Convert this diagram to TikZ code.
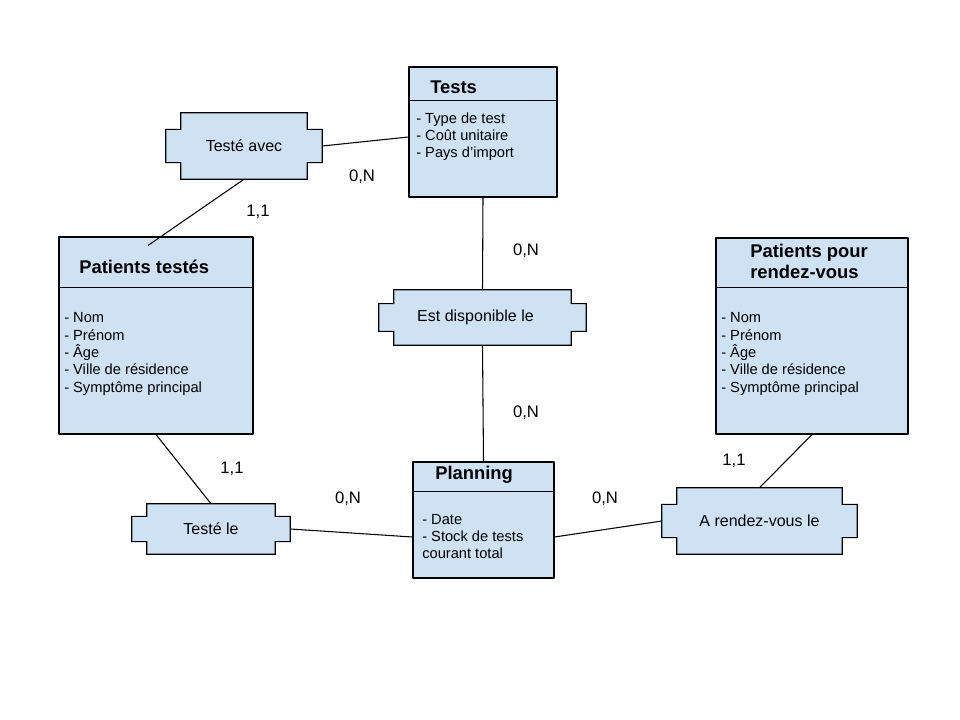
\documentclass[tikz,border=0pt]{standalone}
\usepackage{fontspec}
\setmainfont{Liberation Sans}
\usetikzlibrary{calc,backgrounds}
\definecolor{boxblue}{RGB}{207,226,243}
\def\px{0.75pt}
\tikzset{
  entity/.style={draw, fill=boxblue, line width=0.8pt, inner sep=0pt},
  relation/.style={inner sep=0pt, font=\fontsize{12}{14}\selectfont},
  title/.style={anchor=base west, inner sep=0pt, align=left, font=\fontsize{13.8}{16.5}\selectfont\bfseries},
  attr/.style={anchor=base west, inner sep=0pt, align=left, font=\fontsize{11}{13}\selectfont},
  card/.style={font=\fontsize{12.5}{14}\selectfont},
  link/.style={line width=0.8pt},
}
\begin{document}
\begin{tikzpicture}[x=0.75pt, y=-0.75pt, line join=round]
	\useasboundingbox (0,0) rectangle (960,720);
	% entites
	\node[entity, minimum width=148*\px, minimum height=130*\px] (tests) at (483,132) {};
	\node[entity, minimum width=194*\px, minimum height=197*\px] (ptestes) at (156,335.5) {};
	\node[entity, minimum width=192*\px, minimum height=196*\px] (prdv) at (812,336) {};
	\node[entity, minimum width=141*\px, minimum height=116*\px] (planning) at (483.5,520) {};
	\draw[link] ($(tests.north west)+(0,34)$) -- ($(tests.north east)+(0,34)$);
	\draw[link] ($(ptestes.north west)+(0,51)$) -- ($(ptestes.north east)+(0,51)$);
	\draw[link] ($(prdv.north west)+(0,50)$) -- ($(prdv.north east)+(0,50)$);
	\draw[link] ($(planning.north west)+(0,30)$) -- ($(planning.north east)+(0,30)$);
	% base = derniere ligne
	\node[title] (tests-t) at (430,94) {Tests};
	\node[title] (ptestes-t) at (79,274) {Patients testés};
	\node[title] (prdv-t) at (750,279) {Patients pour\\rendez-vous};
	\node[title] (planning-t) at (435,479) {Planning};
	\node[attr] (tests-a) at (416,157.7) {- Type de test\\- Coût unitaire\\- Pays d’import};
	\node[attr] (ptestes-a) at (64,392.3) {- Nom\\- Prénom\\- Âge\\- Ville de résidence\\- Symptôme principal};
	\node[attr] (prdv-a) at (721,392.3) {- Nom\\- Prénom\\- Âge\\- Ville de résidence\\- Symptôme principal};
	\node[attr] (planning-a) at (422,558.7) {- Date\\- Stock de tests\\courant total};
	% associations
	\node[relation, minimum width=156*\px, minimum height=66*\px] (testeavec) at (244,146) {Testé avec};
	\node[relation, minimum width=207*\px, minimum height=55*\px] (estdispo) at (482.5,317.5) {Est disponible le\kern10.5pt};
	\node[relation, minimum width=158*\px, minimum height=50*\px] (testele) at (211,529) {Testé le};
	\node[relation, minimum width=195*\px, minimum height=66*\px] (ardv) at (759.5,521) {A rendez-vous le};
	\begin{scope}[on background layer]
		\foreach \r in {testeavec,estdispo,testele,ardv}
			\draw[entity] ($(\r.north west)+(15,0)$) -- ($(\r.north east)+(-15,0)$)
				-- ($(\r.north east)!.25!(\r.south east)+(-15,0)$) -- ($(\r.north east)!.25!(\r.south east)$)
				-- ($(\r.north east)!.75!(\r.south east)$) -- ($(\r.north east)!.75!(\r.south east)+(-15,0)$)
				-- ($(\r.south east)+(-15,0)$) -- ($(\r.south west)+(15,0)$)
				-- ($(\r.north west)!.75!(\r.south west)+(15,0)$) -- ($(\r.north west)!.75!(\r.south west)$)
				-- ($(\r.north west)!.25!(\r.south west)$) -- ($(\r.north west)!.25!(\r.south west)+(15,0)$) -- cycle;
	\end{scope}
	% liens
	\draw[link] (testeavec.east) -- ($(tests.west)+(0,5)$);
	\draw[link] (testeavec.south) -- ($(ptestes.north)+(-8,9)$);
	\draw[link] (tests.south) -- (estdispo.north);
	\draw[link] (estdispo.south) -- (planning.north);
	\draw[link] (ptestes.south) -- (testele.north);
	\draw[link] (testele.east) -- ($(planning.west)+(0,17)$);
	\draw[link] ($(planning.east)+(0,17)$) -- (ardv.west);
	\draw[link] (ardv.north) -- (prdv.south);
	% cardinalites
	\node[card] (c-avec-t) at (362,177) {0,N};
	\node[card] (c-avec-p) at (258,212) {1,1};
	\node[card] (c-dispo-t) at (526,251) {0,N};
	\node[card] (c-dispo-p) at (526,413) {0,N};
	\node[card] (c-le-p) at (232,469) {1,1};
	\node[card] (c-le-pl) at (348,499) {0,N};
	\node[card] (c-rdv-pl) at (605,499) {0,N};
	\node[card] (c-rdv-p) at (734,461) {1,1};
\end{tikzpicture}
\end{document}
